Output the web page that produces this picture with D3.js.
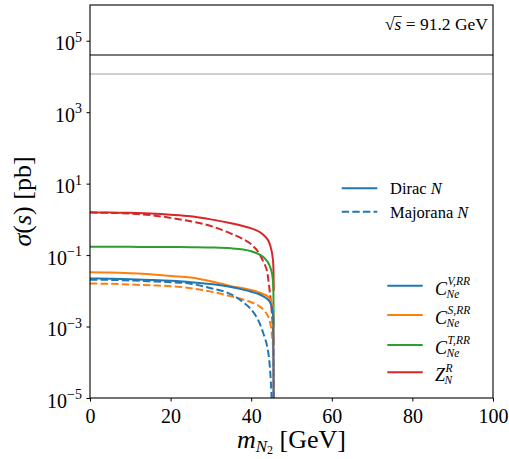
<!DOCTYPE html>
<html><head><meta charset="utf-8">
<script src="https://cdn.jsdelivr.net/npm/d3@7"></script>
<style>body{margin:0;background:#fff} svg{display:block}</style>
</head><body><svg id="c" width="509" height="459"></svg>
<script>
// ---- data ----
const masses       = [0, 5, 10, 15, 20, 25, 30, 35, 38, 40, 42, 43, 44, 44.5, 45, 45.3, 45.5, 45.59];
const zDirac       = [1.57, 1.56, 1.52, 1.45, 1.35, 1.22, 1.00, 0.78, 0.65, 0.56, 0.45, 0.37, 0.28, 0.22, 0.14, 0.09, 0.05, 0.01];
const zMajorana    = [1.55, 1.52, 1.45, 1.32, 1.10, 0.88, 0.65, 0.40, 0.28, 0.20, 0.11, 0.065, 0.032, 0.012, 0.0035, 0.0012, 3e-4, 1e-5];
const tDirac       = [0.170, 0.170, 0.170, 0.169, 0.168, 0.166, 0.163, 0.155, 0.143, 0.128, 0.105, 0.088, 0.066, 0.053, 0.036, 0.024, 0.012, 0.001];
const sDirac       = [0.033, 0.0325, 0.031, 0.029, 0.026, 0.0235, 0.0185, 0.0135, 0.0118, 0.0105, 0.0090, 0.0081, 0.0071, 0.0063, 0.0050, 0.0037, 0.0022, 3e-4];
const sMajorana    = [0.016, 0.0157, 0.015, 0.0142, 0.0135, 0.0118, 0.0095, 0.0070, 0.0057, 0.0048, 0.0037, 0.0030, 0.0021, 0.0016, 0.0008, 4e-4, 1.5e-4, 1e-5];
const vDirac       = [0.022, 0.0218, 0.0212, 0.0202, 0.0190, 0.0175, 0.0155, 0.0128, 0.0108, 0.0094, 0.0080, 0.0070, 0.0059, 0.0051, 0.0039, 0.0028, 0.0016, 1e-7];
const vMajorana    = [0.0205, 0.0202, 0.0195, 0.0185, 0.0175, 0.0158, 0.0118, 0.0080, 0.0048, 0.0030, 0.0013, 6.5e-4, 2.6e-4, 1.1e-4, 1.5e-5, 2e-6, 5e-7, 1e-7];
const refLines     = [39800, 11700];
const yTickValues  = [1e-5, 1e-3, 1e-1, 1e1, 1e3, 1e5];
const yTickExps    = ["\u22125", "\u22123", "\u22121", "1", "3", "5"];
const xTickValues  = [0, 20, 40, 60, 80, 100];

// ---- layout ----
const L = 90, R = 493, T = 5, B = 398;
const font = "'Liberation Serif', 'DejaVu Serif', serif";
const C = {blue:"#1f77b4", orange:"#ff7f0e", green:"#2ca02c", red:"#d62728"};
const dash = "7.4,3.2";

const x = d3.scaleLinear().domain([0, 100]).range([L, R]);
const y = d3.scaleLog().domain([1e-5, 1e6]).range([B, T]);
const svg = d3.select("#c");
svg.attr("font-family", font);

svg.append("clipPath").attr("id", "clip").append("rect")
  .attr("x", L).attr("y", T).attr("width", R - L).attr("height", B - T);
const plot = svg.append("g").attr("clip-path", "url(#clip)");

plot.selectAll("line.ref").data(refLines).join("line").attr("class", "ref")
  .attr("x1", L).attr("x2", R).attr("y1", d => y(d)).attr("y2", d => y(d))
  .attr("stroke", (d, i) => i === 0 ? "#7a7a7a" : "#cfcfcf").attr("stroke-width", 1.8);

const series = [
  {v: zDirac, c: C.red, d: false},
  {v: zMajorana, c: C.red, d: true},
  {v: tDirac, c: C.green, d: false},
  {v: sDirac, c: C.orange, d: false},
  {v: sMajorana, c: C.orange, d: true},
  {v: vDirac, c: C.blue, d: false},
  {v: vMajorana, c: C.blue, d: true}
];
const line = d3.line().x((d, i) => x(masses[i])).y(d => y(d)).curve(d3.curveMonotoneX);
plot.selectAll("path.s").data(series).join("path").attr("class", "s")
  .attr("d", d => line(d.v)).attr("fill", "none").attr("stroke", d => d.c)
  .attr("stroke-width", 2).attr("stroke-dasharray", d => d.d ? dash : null);

// ---- axes ----
const yAxis = svg.append("g").attr("transform", `translate(${L},0)`)
  .call(d3.axisLeft(y).tickValues(yTickValues).tickSize(3.5).tickFormat(""));
yAxis.select(".domain").remove();
yAxis.selectAll(".tick line").attr("stroke", "#000").attr("stroke-width", 1);
yAxis.selectAll(".tick").each(function(d, i) {
  const t = d3.select(this).append("text").attr("x", -8).attr("y", 9)
    .attr("text-anchor", "end").attr("fill", "#000").attr("font-family", font);
  t.append("tspan").attr("font-size", 20).text("10");
  t.append("tspan").attr("font-size", 14).attr("dy", -8.5).text(yTickExps[i]);
});

const xAxis = svg.append("g").attr("transform", `translate(0,${B})`)
  .call(d3.axisBottom(x).tickValues(xTickValues).tickSize(3.5).tickFormat(d3.format("d")));
xAxis.select(".domain").remove();
xAxis.selectAll(".tick line").attr("stroke", "#000").attr("stroke-width", 1);
xAxis.selectAll(".tick text").attr("dy", null).attr("y", 25).attr("font-size", 20)
  .attr("font-family", font).attr("fill", "#000");

svg.append("rect").attr("x", L).attr("y", T).attr("width", R - L).attr("height", B - T)
  .attr("fill", "none").attr("stroke", "#000").attr("stroke-width", 1.1);

// axis labels
const yl = svg.append("text").attr("transform", `translate(31,${(T + B) / 2}) rotate(-90)`)
  .attr("text-anchor", "middle").attr("font-size", 26).attr("fill", "#000");
yl.append("tspan").attr("font-style", "italic").text("\u03c3");
yl.append("tspan").text("(");
yl.append("tspan").attr("font-style", "italic").text("s");
yl.append("tspan").text(") [pb]");

const xl = svg.append("text").attr("x", (L + R) / 2).attr("y", 448)
  .attr("text-anchor", "middle").attr("font-size", 26).attr("fill", "#000");
xl.append("tspan").attr("font-style", "italic").text("m");
xl.append("tspan").attr("font-style", "italic").attr("font-size", 17).attr("dy", 4).text("N");
xl.append("tspan").attr("font-size", 12).attr("dy", 2).text("2");
xl.append("tspan").attr("dy", -6).text(" [GeV]");

// sqrt(s) annotation
(function() {
  const fs = 17.5, base = 29.5, right = 488;
  const g = svg.append("g").attr("font-size", fs).attr("fill", "#000");
  const a = g.append("text").text("\u221a");
  const s = g.append("text").attr("font-style", "italic").text("s");
  const r = g.append("text").text("\u2005=\u200591.2\u2005GeV");
  const wa = a.node().getComputedTextLength(), ws = s.node().getComputedTextLength(),
        wr = r.node().getComputedTextLength();
  const x0 = right - wa - ws - wr;
  a.attr("x", x0).attr("y", base);
  s.attr("x", x0 + wa).attr("y", base);
  r.attr("x", x0 + wa + ws).attr("y", base);
  g.append("line").attr("x1", x0 + wa - 0.5).attr("x2", x0 + wa + ws + 0.5)
    .attr("y1", base - 13).attr("y2", base - 13).attr("stroke", "#000").attr("stroke-width", 0.8);
})();

// legend 1 (line style)
const leg1 = [{label: "Dirac ", dashed: false, y: 188.3}, {label: "Majorana ", dashed: true, y: 211.7}];
leg1.forEach(d => {
  svg.append("line").attr("x1", 341.7).attr("x2", 377.3).attr("y1", d.y).attr("y2", d.y)
    .attr("stroke", C.blue).attr("stroke-width", 2).attr("stroke-dasharray", d.dashed ? dash : null);
  const t = svg.append("text").attr("x", 390).attr("y", d.y + 5.8).attr("font-size", 16.5).attr("fill", "#000");
  t.append("tspan").text(d.label);
  t.append("tspan").attr("font-style", "italic").text("N");
});

// legend 2 (couplings)
const leg2 = [
  {main: "C", sup: "V,RR", sub: "Ne", c: C.blue, y: 285.7},
  {main: "C", sup: "S,RR", sub: "Ne", c: C.orange, y: 315},
  {main: "C", sup: "T,RR", sub: "Ne", c: C.green, y: 345},
  {main: "Z", sup: "R", sub: "N", c: C.red, y: 372.3}
];
leg2.forEach(d => {
  svg.append("line").attr("x1", 387.3).attr("x2", 422.7).attr("y1", d.y).attr("y2", d.y)
    .attr("stroke", d.c).attr("stroke-width", 2);
  const m = svg.append("text").attr("x", 435).attr("y", d.y + 9).attr("font-size", 18)
    .attr("font-style", "italic").attr("fill", "#000").text(d.main);
  const w = m.node().getComputedTextLength();
  svg.append("text").attr("x", 435 + w + 0.5).attr("y", d.y - 0.8).attr("font-size", 11.5)
    .attr("font-style", "italic").attr("fill", "#000").text(d.sup);
  svg.append("text").attr("x", 435 + w - 0.5).attr("y", d.y + 11.8).attr("font-size", 11.5)
    .attr("font-style", "italic").attr("fill", "#000").text(d.sub);
});
</script></body></html>
